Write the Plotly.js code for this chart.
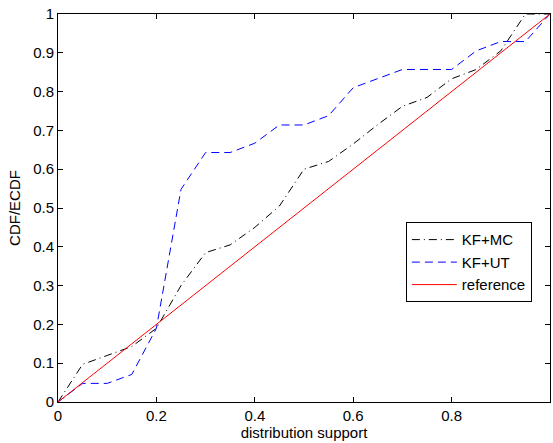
<!DOCTYPE html>
<html>
<head>
<meta charset="utf-8">
<script src="https://cdn.plot.ly/plotly-3.0.1.min.js"></script>
<style>html,body{margin:0;padding:0;background:#fff;}#chart{width:553px;height:443px;}</style>
</head>
<body>
<div id="chart"></div>
<script>
// Data
var supportX = [0, 0.05, 0.1, 0.15, 0.2, 0.25, 0.3, 0.35, 0.4, 0.45, 0.5, 0.55, 0.6, 0.65, 0.7, 0.75, 0.8, 0.85, 0.9, 0.95, 1];
var kfMC = [0, 0.097, 0.12, 0.143, 0.19, 0.3, 0.385, 0.405, 0.45, 0.505, 0.6, 0.62, 0.665, 0.715, 0.762, 0.785, 0.833, 0.857, 0.905, 1, 1];
var kfUT = [0, 0.048, 0.048, 0.071, 0.19, 0.548, 0.643, 0.643, 0.667, 0.714, 0.714, 0.738, 0.81, 0.833, 0.857, 0.857, 0.857, 0.905, 0.929, 0.929, 1];
var refX = [0, 1];
var refY = [0, 1];
var xTickVals = [0, 0.2, 0.4, 0.6, 0.8, 1];
var xTickText = ["0", "0.2", "0.4", "0.6", "0.8", "1"];
var yTickVals = [0, 0.1, 0.2, 0.3, 0.4, 0.5, 0.6, 0.7, 0.8, 0.9, 1];
var yTickText = ["0", "0.1", "0.2", "0.3", "0.4", "0.5", "0.6", "0.7", "0.8", "0.9", "1"];
var seriesNames = ["KF+MC", "KF+UT", "reference"];

var font = "Liberation Sans, Arial, Helvetica, sans-serif";

var traces = [
  {x: supportX, y: kfMC, name: seriesNames[0], mode: "lines", type: "scatter",
   line: {color: "#000000", width: 1, dash: "8px,4px,1px,4px"}},
  {x: supportX, y: kfUT, name: seriesNames[1], mode: "lines", type: "scatter",
   line: {color: "#0000ff", width: 1, dash: "8px,5px"}},
  {x: refX, y: refY, name: seriesNames[2], mode: "lines", type: "scatter",
   line: {color: "#ff0000", width: 1}}
];

var axisCommon = {
  showgrid: false, zeroline: false, showline: true, linecolor: "#000", linewidth: 1,
  mirror: "allticks", ticks: "inside", ticklen: 5, tickcolor: "#000", tickwidth: 1,
  tickfont: {family: font, size: 15, color: "#000"}, fixedrange: true
};

var layout = {
  width: 553, height: 443,
  margin: {l: 58, r: 3, t: 14, b: 41, pad: 0},
  paper_bgcolor: "#fff", plot_bgcolor: "#fff",
  showlegend: true,
  legend: {x: 0.707, y: 0.463, xanchor: "left", yanchor: "top",
    bgcolor: "#fff", bordercolor: "#000", borderwidth: 1, itemwidth: 45,
    font: {family: font, size: 15, color: "#000"}, tracegroupgap: 0},
  xaxis: Object.assign({}, axisCommon, {range: [0, 1], tickvals: xTickVals, ticktext: xTickText,
    title: {text: "distribution support", font: {family: font, size: 15, color: "#000"}, standoff: 1}}),
  yaxis: Object.assign({}, axisCommon, {range: [0, 1], tickvals: yTickVals, ticktext: yTickText,
    title: {text: "CDF/ECDF", font: {family: font, size: 15, color: "#000"}, standoff: 8}})
};

Plotly.newPlot("chart", traces, layout, {staticPlot: true, displayModeBar: false});
</script>
</body>
</html>
